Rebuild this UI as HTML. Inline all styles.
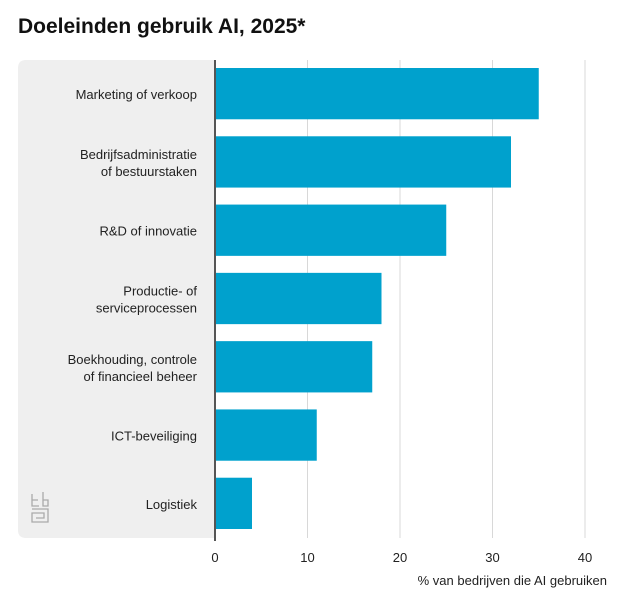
<!DOCTYPE html>
<html><head><meta charset="utf-8"><style>
body{margin:0;background:#fff;width:626px;height:595px;overflow:hidden;font-family:"Liberation Sans",sans-serif;}
</style></head><body>
<svg id="chart" width="626" height="595" xmlns="http://www.w3.org/2000/svg">
<text x="18" y="33" font-size="21" font-weight="bold" fill="#111">Doeleinden gebruik AI, 2025*</text>
<path d="M26 60 H215 V538 H26 Q18 538 18 530 V68 Q18 60 26 60 Z" fill="#efefef"/>
<g id="grid"></g><g id="bars"></g><g id="labels"></g><g id="ticks"></g>
<line x1="215" y1="60" x2="215" y2="541" stroke="#555" stroke-width="2"/>
<g fill="none" stroke="#aaa" stroke-width="1.3">
<path d="M32 494 V506 H39 M32 500 H38 M43 492 V506 H48 V500 H43 M32 509 H48 V522 H32 V513 H44 V518 H36"/>
</g>
<text x="607" y="585" font-size="13" text-anchor="end" fill="#222">% van bedrijven die AI gebruiken</text>
</svg>
<script>
const categories=[["Marketing of verkoop"],["Bedrijfsadministratie","of bestuurstaken"],["R&D of innovatie"],["Productie- of","serviceprocessen"],["Boekhouding, controle","of financieel beheer"],["ICT-beveiliging"],["Logistiek"]];
const values=[35,32,25,18,17,11,4];
const ticks=[0,10,20,30,40];
const NS="http://www.w3.org/2000/svg";
const x=v=>215+v*9.25;
const top0=60,band=478/categories.length;
const y=i=>top0+i*band;
function mk(t,a,p){const e=document.createElementNS(NS,t);for(const k in a)e.setAttribute(k,a[k]);p.appendChild(e);return e;}
const g=document.getElementById('grid'),b=document.getElementById('bars'),l=document.getElementById('labels'),tk=document.getElementById('ticks');
ticks.forEach(t=>{
 if(t>0){const ln=mk('line',{x1:x(t),x2:x(t),y1:60,y2:538,stroke:'#d8d8d8','stroke-width':1},g);
 
 }
 const tx=mk('text',{x:x(t),y:562,'font-size':13,'text-anchor':'middle',fill:'#222'},tk);tx.textContent=t;
 
 
});
values.forEach((v,i)=>{
 const r=mk('rect',{x:215,y:y(i)+8,width:x(v)-215,height:band-17,fill:'#00a1cd'},b);
 
 
 const lines=categories[i],cy=y(i)+band/2;
 lines.forEach((s,j)=>{
  const t=mk('text',{x:197,y:cy+5+(j-(lines.length-1)/2)*17,'font-size':13,'text-anchor':'end',fill:'#222'},l);t.textContent=s;
  
  
 });
});
</script>
</body></html>
